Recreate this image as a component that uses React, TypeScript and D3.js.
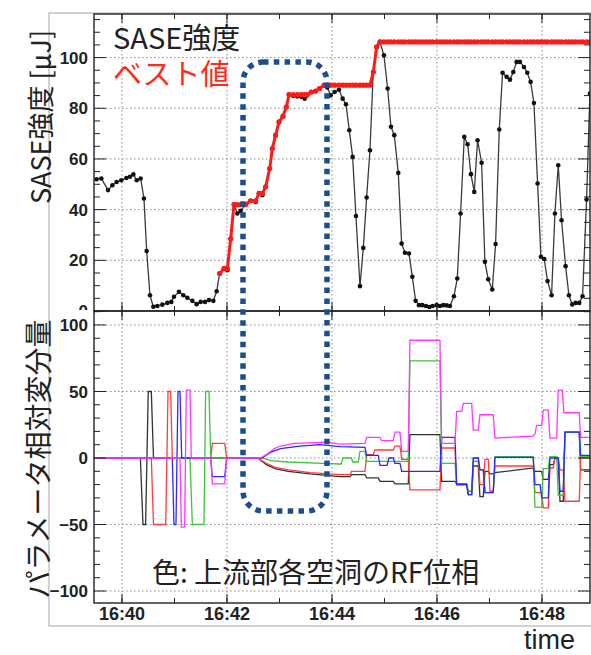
import React from 'react';
import * as d3 from 'd3';

// ---- data (time in seconds after 16:40:00) ----
const saseTime = [-29, -23.6, -16, -11, -6.1, -0.8, 5, 9.1, 13, 16.8, 21.3, 25.1, 28.2, 32, 35.8, 40.4, 46.1, 51.8, 56.4, 59.4, 65.1, 70.1, 74.7, 80.4, 85.3, 89.9, 94.9, 99.4, 104.4, 108.2, 111.6, 116.6, 120.4, 124.2, 128, 131.8, 135.6, 141.3, 147, 152.8, 156.6, 160.4, 164.2, 168.8, 171.8, 175.6, 179.4, 184, 187.8, 190.9, 195.8, 200.4, 205, 208.8, 211.8, 216.4, 221.3, 225.9, 230.9, 234.7, 238.5, 243, 248, 252.2, 256, 259.8, 263.6, 267.4, 272, 275.8, 279.6, 283.4, 287.2, 291, 294.8, 299.4, 303.6, 307.4, 311.2, 315.8, 319.6, 323.4, 328, 331.8, 335.6, 339.4, 343.2, 347.4, 351.2, 355, 359.6, 363.4, 367.2, 371, 374.8, 379.4, 383.2, 387, 391.2, 395, 398.8, 402.6, 406.4, 411, 414.8, 418.6, 423.2, 427, 431.2, 435, 439.6, 443.4, 447.2, 451, 454.8, 459.4, 463.2, 467, 470.8, 475, 478.8, 482.6, 486.4, 491, 494.8, 498.6, 502.4, 507, 510.8, 514.6, 518.4, 522.6, 526.4, 531, 534.8];
const saseValue = [52, 52.3, 47.7, 49.6, 50.9, 51.6, 52.5, 53, 53.9, 51.6, 52.3, 44.4, 23.7, 6.2, 1.7, 2, 2.5, 3.2, 3.6, 5.6, 7.6, 6.2, 5.2, 4, 2.7, 3.6, 3.6, 4.3, 4, 7.8, 14.8, 16.8, 16.1, 28.5, 42, 38.5, 39.5, 42, 43.5, 43, 46.4, 45.7, 49, 56.2, 64.1, 69.4, 74.6, 76.9, 80.5, 85.4, 84.9, 84.7, 84.5, 83.8, 85.1, 86.4, 86.8, 87.8, 89.1, 88.2, 85.1, 86.4, 87.3, 83.8, 81.6, 71.3, 60.8, 37.5, 9.8, 24.9, 44.8, 63.4, 94.3, 104.2, 106.2, 100.9, 87.8, 72.7, 69.4, 54.5, 26.6, 23, 22.7, 13.5, 4, 2.3, 2.3, 2, 1.6, 2, 2.3, 2, 2.3, 2.2, 2, 5.8, 12.8, 38.5, 68.7, 65.8, 54, 47, 67.4, 58.5, 19.4, 12.5, 8.5, 26.4, 71.6, 94, 92.4, 91.3, 94.3, 98.3, 98.3, 96.3, 94, 90.4, 82.1, 50.3, 21.4, 20.5, 11.8, 6.2, 38.5, 57.5, 35.8, 17.7, 6.2, 2.6, 3.2, 3.2, 5.8, 44, 85.8];
const bestStartIndex = 30; // optimisation starts here; best = running maximum

const phaseBlack: [number, number][] = [[-32,0],[21,0],[24,-50],[27,-50],[30,50],[33.5,50],[36,0],[155,0],[165,-5],[175,-8],[190,-10],[215,-12],[249,-14],[260.6,-14],[262.5,-12.5],[277.7,-12.5],[279.7,-15],[292.9,-15],[294.9,-17.5],[310,-17.5],[312,-19.5],[327.2,-19.5],[329.1,17.5],[363.4,17.5],[365.4,-17.5],[380.6,-17.5],[382.5,-19.5],[393.9,-19.5],[395.8,-27.5],[399.7,-27.5],[401.5,-6],[407.2,-6],[409.1,-29],[412.9,-29],[414.9,-10],[418.6,-10],[420.6,-12],[424.3,-12],[426.3,-11],[470,-7.5],[472,-10],[479.7,-10],[481.5,-16],[487.2,-16],[489.1,-5],[492.9,-5],[494.9,0],[498.6,0],[500.6,-32.5],[504.3,-32.5],[506.3,19.5],[522.6,19.5],[524.2,-9],[536,-9]];
const phaseRed: [number, number][] = [[-32,0],[33.5,0],[36,-50],[50,-50],[52.6,50],[55.6,50],[57.5,0],[101.4,0],[103.3,11],[117.4,11],[119.6,0],[155,0],[165,-4],[175,-7],[190,-9],[215,-11],[249,-12.5],[260.6,-12.5],[262.5,-10],[277.7,-10],[279.7,2.5],[287.2,2.5],[289.1,6],[310,6],[312,9],[317.7,9],[319.7,-1],[327.2,-1],[329.1,-24],[363.4,-24],[365.4,7.5],[380.6,7.5],[382.5,-20],[393.9,-20],[395.8,-25],[399.7,-25],[401.5,-2.5],[407.2,-2.5],[409.1,-20],[412.9,-20],[414.9,-1],[418.6,-1],[420.6,-25],[424.3,-25],[426.3,-6],[470,-6],[472,-26],[479.7,-26],[481.5,-37.5],[487.2,-37.5],[489.1,-7.5],[492.9,-7.5],[494.9,0],[498.6,0],[500.6,-9],[504.3,-9],[506.3,-32.5],[522.6,-32.5],[524.2,0],[536,0]];
const phaseGreen: [number, number][] = [[-32,0],[77.7,0],[80.4,-50],[93.7,-50],[95.6,50],[99.4,50],[101.4,0],[160,0],[170,-2],[190,-3],[230,-4],[249,-4.5],[250.5,-4.5],[252.5,0],[262,0],[264,-3],[270,-3],[272,5],[277.7,5],[279.7,-2.5],[327.2,-2.5],[329.1,73],[363.4,73],[365.4,-4],[380.6,-4],[382.5,-20],[393.9,-20],[395.8,-25],[399.7,-25],[401.5,0],[407.2,0],[409.1,-9],[412.9,-9],[414.9,-26],[424.3,-26],[426.3,1],[470,1],[472,-37],[479.7,-37],[481.5,-8],[487.2,-8],[489.1,1],[496.8,1],[498.6,-28],[504.3,-28],[506.3,19.5],[522.6,19.5],[524.2,1],[536,1]];
const phaseBlue: [number, number][] = [[-32,0],[57.5,0],[59.4,-50],[61.7,-50],[64,50],[66.3,50],[68.2,0],[101.4,0],[103.3,-14],[117.4,-14],[119.6,0],[160,0],[169,4],[181,7],[203,9],[226,10],[249,8.5],[277.7,8],[279.7,2],[292.9,2],[294.9,-5.5],[303,-5.5],[305,0],[310,0],[312,-4],[317.7,-4],[319.7,-10],[363.4,-10],[365.4,15.5],[380.6,15.5],[382.5,-20],[393.9,-20],[395.8,-27.5],[399.7,-27.5],[401.5,0],[407.2,0],[409.1,-9],[412.9,-9],[414.9,-26],[424.3,-26],[426.3,0.5],[470,0.5],[472,-20],[477.8,-20],[479.7,-30],[487.2,-30],[489.1,0],[498.6,0],[500.6,-25],[504.3,-25],[506.3,19.5],[522.6,19.5],[524.2,2],[536,2]];
const phaseMagenta: [number, number][] = [[-32,0],[66.3,0],[67.8,-52],[71.6,-52],[73.5,51],[77.7,51],[79.2,0],[101.4,0],[103.3,-19.5],[117.4,-19.5],[119.6,0],[158,0],[166,3],[174,7],[181,9],[197,11],[235,12],[249,10.5],[277.7,11],[279.7,15.5],[294.9,15.5],[296.8,13],[310,13],[312,19.5],[317.7,19.5],[319.7,5],[327.2,5],[329.1,88.5],[363.4,88.5],[365.4,11],[380.6,11],[382.5,35],[388.3,35],[390.2,41],[399.7,41],[401.5,21],[407.2,21],[409.1,32.5],[424.3,32.5],[426.3,15],[470,16.5],[472,18],[473.9,24.5],[479.7,24.5],[481.5,36],[487.2,36],[489.1,15],[496.8,15],[498.6,51],[503.2,51],[505.1,34],[522.6,34],[524.2,15.5],[536,15.5]];

const topTickValues = [0, 20, 40, 60, 80, 100];
const bottomTickValues = [-100, -50, 0, 50, 100];
const highlightWindow = [138.3, 234.3]; // seconds after 16:40, dotted box

const W = 591, H = 655;
const L = 94, R = 590, T1 = 14, B1 = 311, T2 = 311, B2 = 603;
const JP = '"Noto Sans CJK JP", "Noto Sans", sans-serif';
const NUM = '"Liberation Sans", Arial, sans-serif';

export default function App() {
  const base = new Date(2000, 0, 1, 16, 40, 0).getTime();
  const d = (s: number) => new Date(base + s * 1000);
  const x = d3.scaleTime().domain([d(-32), d(534.9)]).range([L, R]);
  const y1 = d3.scaleLinear().domain([0, 117.2]).range([B1, T1]);
  const y2 = d3.scaleLinear().domain([-109, 110.5]).range([B2, T2]);

  const sase = saseTime.map((t, i) => [t, saseValue[i]] as [number, number]);
  let runMax = -Infinity;
  const best = sase.slice(bestStartIndex).map(([t, v]) => {
    runMax = Math.max(runMax, v);
    return [t, runMax] as [number, number];
  });

  const lineTop = d3.line<[number, number]>().x(p => x(d(p[0]))).y(p => y1(p[1]));
  const lineBot = d3.line<[number, number]>().x(p => x(d(p[0]))).y(p => y2(p[1]));

  const majorX = x.ticks(d3.timeMinute.every(2) as any);
  const minorX = x.ticks(d3.timeMinute.every(1) as any);
  const fmt = d3.timeFormat('%H:%M');

  const topMinor = d3.range(0, 117, 5);
  const botMinor = d3.range(-100, 111, 10);

  const grid = { stroke: '#8a8a8a', strokeWidth: 1, strokeDasharray: '1.5 2.5' };

  const xTicks = (yEdge: number, dir: number, key: string) => (
    <g key={key}>
      {minorX.map((t, i) => (
        <line key={'mn' + i} x1={x(t)} x2={x(t)} y1={yEdge} y2={yEdge + dir * 5} stroke="#222" strokeWidth={1} />
      ))}
      {majorX.map((t, i) => (
        <line key={'mj' + i} x1={x(t)} x2={x(t)} y1={yEdge} y2={yEdge + dir * 9} stroke="#222" strokeWidth={1} />
      ))}
    </g>
  );

  const series: [[number, number][], string][] = [
    [phaseBlack, '#333333'],
    [phaseRed, '#ff3b3b'],
    [phaseGreen, '#3fc23f'],
    [phaseBlue, '#2a2aff'],
    [phaseMagenta, '#ff38ff'],
  ];

  const bx0 = x(d(highlightWindow[0]));
  const bx1 = x(d(highlightWindow[1]));
  const by0 = 62;
  const by1 = 511;

  return (
    <svg width={W} height={H} style={{ position: 'absolute', left: 0, top: 0, background: '#fff' }}>
      <defs>
        <clipPath id="cpTop"><rect x={L} y={T1} width={R - L} height={B1 - T1} /></clipPath>
        <clipPath id="cpBot"><rect x={L} y={T2} width={R - L} height={B2 - T2} /></clipPath>
        <clipPath id="cpZero"><rect x={0} y={0} width={L} height={B1 - 1} /></clipPath>
      </defs>
      <rect x={0} y={0} width={W} height={H} fill="#fff" />
      {/* outer frame */}
      <rect x={49} y={13} width={W + 10 - 49} height={626 - 13} fill="none" stroke="#b5b5b5" strokeWidth={1.2} />

      {/* grids */}
      {majorX.map((t, i) => (
        <g key={'gx' + i}>
          <line x1={x(t)} x2={x(t)} y1={T1} y2={B1} {...grid} />
          <line x1={x(t)} x2={x(t)} y1={T2} y2={B2} {...grid} />
        </g>
      ))}
      {topTickValues.filter(v => v > 0).map(v => (
        <line key={'gy1' + v} x1={L} x2={R} y1={y1(v)} y2={y1(v)} {...grid} />
      ))}
      {bottomTickValues.map(v => (
        <line key={'gy2' + v} x1={L} x2={R} y1={y2(v)} y2={y2(v)} {...grid} />
      ))}

      {/* top panel data */}
      <g clipPath="url(#cpTop)">
        <path d={lineTop(sase) || ''} fill="none" stroke="#3a3a3a" strokeWidth={1.3} />
        {sase.map((p, i) => (
          <circle key={'s' + i} cx={x(d(p[0]))} cy={y1(p[1])} r={2.3} fill="#111" />
        ))}
        <path d={lineTop(best) || ''} fill="none" stroke="#ff1a1a" strokeWidth={3} />
        {best.map((p, i) => (
          <circle key={'b' + i} cx={x(d(p[0]))} cy={y1(p[1])} r={2.6} fill="#ff1a1a" />
        ))}
      </g>

      {/* bottom panel data */}
      <g clipPath="url(#cpBot)">
        {series.map(([data, c], i) => (
          <path key={'ph' + i} d={lineBot(data) || ''} fill="none" stroke={c} strokeWidth={1.3} />
        ))}
      </g>

      {/* frames */}
      <rect x={L} y={T1} width={R - L} height={B1 - T1} fill="none" stroke="#222" strokeWidth={1.4} />
      <rect x={L} y={T2} width={R - L} height={B2 - T2} fill="none" stroke="#222" strokeWidth={1.4} />

      {/* y ticks */}
      {topMinor.map(v => {
        const len = v % 20 === 0 ? 12 : 6;
        return (
          <g key={'t1' + v}>
            <line x1={L} x2={L + len} y1={y1(v)} y2={y1(v)} stroke="#222" />
            <line x1={R} x2={R - len} y1={y1(v)} y2={y1(v)} stroke="#222" />
          </g>
        );
      })}
      {botMinor.map(v => {
        const len = v % 50 === 0 ? 12 : 6;
        return (
          <g key={'t2' + v}>
            <line x1={L} x2={L + len} y1={y2(v)} y2={y2(v)} stroke="#222" />
            <line x1={R} x2={R - len} y1={y2(v)} y2={y2(v)} stroke="#222" />
          </g>
        );
      })}
      {xTicks(T1, 1, 'xt1')}
      {xTicks(B1, -1, 'xt2')}
      {xTicks(T2, 1, 'xt3')}
      {xTicks(B2, -1, 'xt4')}

      {/* tick labels */}
      <g clipPath="url(#cpZero)">
        {topTickValues.map(v => (
          <text key={'l1' + v} x={88} y={y1(v)} dy="0.36em" textAnchor="end" fontFamily={NUM} fontWeight={700} fontSize={17} fill="#222">{v}</text>
        ))}
      </g>
      {bottomTickValues.map(v => (
        <text key={'l2' + v} x={88} y={y2(v)} dy="0.36em" textAnchor="end" fontFamily={NUM} fontWeight={700} fontSize={17} fill="#222">{v < 0 ? '\u2212' + Math.abs(v) : v}</text>
      ))}
      {majorX.map((t, i) => (
        <text key={'lx' + i} x={x(t)} y={619.5} textAnchor="middle" fontFamily={NUM} fontWeight={700} fontSize={18} fill="#222">{fmt(t)}</text>
      ))}

      {/* axis titles */}
      <text x={575} y={648.5} textAnchor="end" fontFamily={NUM} fontSize={27} fill="#222">time</text>
      <text transform="translate(51,117) rotate(-90)" textAnchor="middle" fontFamily={JP} fontSize={27} fill="#222">SASE強度 [µJ]</text>
      <text transform="translate(49,459) rotate(-90)" textAnchor="middle" fontFamily={JP} fontSize={28} fill="#222">パラメータ相対変分量</text>

      {/* legends */}
      <text x={113} y={49} fontFamily={JP} fontSize={29} fill="#222">SASE強度</text>
      <text x={113} y={85} fontFamily={JP} fontSize={29} fill="#ff2a1a">ベスト値</text>
      <text x={152} y={583} fontFamily={JP} fontSize={28} fill="#222">色: 上流部各空洞のRF位相</text>

      {/* highlight box */}
      <rect x={bx0} y={by0} width={bx1 - bx0} height={by1 - by0} rx={20} ry={20} fill="none" stroke="#1c4f8a" strokeWidth={5.5} strokeDasharray="5.5 5.3" />
    </svg>
  );
}
